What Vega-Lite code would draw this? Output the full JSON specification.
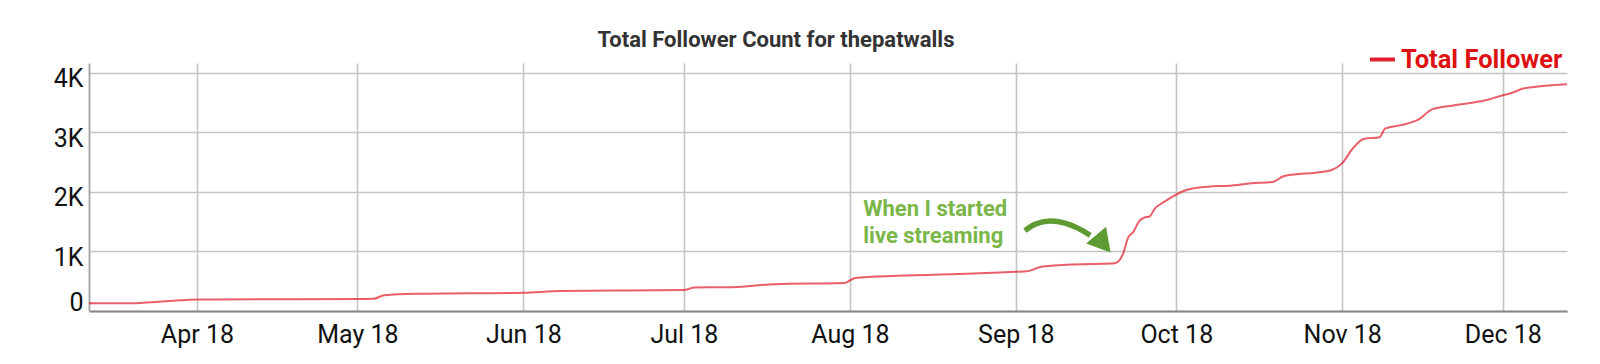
{
  "$schema": "https://vega.github.io/schema/vega-lite/v6.json",
  "width": 1478,
  "height": 248,
  "autosize": {"type": "none"},
  "padding": {"left": 89, "top": 63, "right": 33, "bottom": 53},
  "background": "white",
  "title": {
    "text": "Total Follower Count for thepatwalls",
    "font": "Roboto",
    "fontSize": 22,
    "fontWeight": "bold",
    "color": "#333333",
    "anchor": "middle",
    "frame": "group",
    "dx": -52,
    "offset": -24,
    "baseline": "alphabetic"
  },
  "config": {
    "view": {"stroke": null},
    "axis": {"labelFont": "Roboto", "labelColor": "#111111", "labelFontSize": 25, "gridColor": "#c4c4c4", "gridWidth": 1.6, "ticks": false, "title": null}
  },
  "layer": [
    {
      "data": {
        "values": [
          {"date": "2018-03-11T20:00:00Z", "followers": 128},
          {"date": "2018-03-20", "followers": 130},
          {"date": "2018-03-22", "followers": 140},
          {"date": "2018-03-30", "followers": 185},
          {"date": "2018-04-01", "followers": 193},
          {"date": "2018-04-15", "followers": 196},
          {"date": "2018-05-01", "followers": 200},
          {"date": "2018-05-04", "followers": 205},
          {"date": "2018-05-06", "followers": 265},
          {"date": "2018-05-12", "followers": 288},
          {"date": "2018-06-01", "followers": 307},
          {"date": "2018-06-08", "followers": 335},
          {"date": "2018-06-20", "followers": 343},
          {"date": "2018-07-01", "followers": 352},
          {"date": "2018-07-03", "followers": 395},
          {"date": "2018-07-09", "followers": 398},
          {"date": "2018-07-18", "followers": 450},
          {"date": "2018-07-31", "followers": 470},
          {"date": "2018-08-02", "followers": 555},
          {"date": "2018-08-10", "followers": 590},
          {"date": "2018-08-24", "followers": 630},
          {"date": "2018-09-01", "followers": 658},
          {"date": "2018-09-03", "followers": 665},
          {"date": "2018-09-06", "followers": 745},
          {"date": "2018-09-12", "followers": 782},
          {"date": "2018-09-19", "followers": 795},
          {"date": "2018-09-20", "followers": 820},
          {"date": "2018-09-21", "followers": 950},
          {"date": "2018-09-22", "followers": 1230},
          {"date": "2018-09-23", "followers": 1330},
          {"date": "2018-09-24", "followers": 1500},
          {"date": "2018-09-25", "followers": 1565},
          {"date": "2018-09-26", "followers": 1585},
          {"date": "2018-09-27", "followers": 1720},
          {"date": "2018-09-28", "followers": 1790},
          {"date": "2018-09-30", "followers": 1900},
          {"date": "2018-10-02", "followers": 2000},
          {"date": "2018-10-04", "followers": 2055},
          {"date": "2018-10-07", "followers": 2086},
          {"date": "2018-10-11", "followers": 2103},
          {"date": "2018-10-15", "followers": 2142},
          {"date": "2018-10-19", "followers": 2165},
          {"date": "2018-10-21", "followers": 2260},
          {"date": "2018-10-23", "followers": 2290},
          {"date": "2018-10-27", "followers": 2320},
          {"date": "2018-10-30", "followers": 2365},
          {"date": "2018-11-01", "followers": 2480},
          {"date": "2018-11-03", "followers": 2730},
          {"date": "2018-11-05", "followers": 2885},
          {"date": "2018-11-08", "followers": 2915},
          {"date": "2018-11-09", "followers": 3060},
          {"date": "2018-11-12", "followers": 3118},
          {"date": "2018-11-15", "followers": 3200},
          {"date": "2018-11-18", "followers": 3390},
          {"date": "2018-11-22", "followers": 3450},
          {"date": "2018-11-25", "followers": 3490},
          {"date": "2018-11-28", "followers": 3540},
          {"date": "2018-12-01", "followers": 3620},
          {"date": "2018-12-02", "followers": 3640},
          {"date": "2018-12-05", "followers": 3735},
          {"date": "2018-12-08", "followers": 3770},
          {"date": "2018-12-13", "followers": 3802}
        ]
      },
      "mark": {"type": "line", "strokeWidth": 2, "interpolate": "monotone", "strokeOpacity": 0.72},
      "encoding": {
        "x": {
          "field": "date",
          "type": "temporal",
          "scale": {"type": "utc", "nice": false, "domain": [{"year": 2018, "month": "mar", "date": 11, "hours": 20, "utc": true}, {"year": 2018, "month": "dec", "date": 13, "utc": true}]},
          "axis": {"format": "%b %y", "tickCount": {"interval": "month", "step": 1}, "labelPadding": 11, "domainColor": "#888888", "domainWidth": 2, "grid": true}
        },
        "y": {
          "field": "followers",
          "type": "quantitative",
          "scale": {"domain": [0, 4160], "nice": false},
          "axis": {
            "values": [0, 1000, 2000, 3000, 4000],
            "labelExpr": "datum.value == 0 ? '0' : (datum.value / 1000) + 'K'",
            "labelPadding": 6,
            "labelFlush": true,
            "labelOffset": {"condition": {"test": "datum.value == 0", "value": 4}, "value": 6},
            "domainColor": "#aaaaaa",
            "domainWidth": 2
          }
        },
        "color": {
          "datum": "Total Follower",
          "scale": {"range": ["#e0202e"]},
          "legend": {
            "orient": "none",
            "legendX": 1279,
            "legendY": -18,
            "padding": 0,
            "title": null,
            "symbolType": "stroke",
            "symbolSize": 625,
            "symbolStrokeWidth": 4,
            "labelFont": "Roboto",
            "labelFontSize": 25.5,
            "labelFontWeight": "bold",
            "labelColor": "#dd1111",
            "labelOffset": 4,
            "labelLimit": 400
          }
        }
      }
    },
    {
      "data": {
        "values": [
          {"date": "2018-09-02T17:00:00Z", "v": 1348},
          {"date": "2018-09-04T14:00:00Z", "v": 1455},
          {"date": "2018-09-07T10:00:00Z", "v": 1510},
          {"date": "2018-09-10T05:00:00Z", "v": 1475},
          {"date": "2018-09-12T14:00:00Z", "v": 1390},
          {"date": "2018-09-14T22:00:00Z", "v": 1270}
        ]
      },
      "mark": {"type": "line", "interpolate": "monotone", "strokeWidth": 5.5, "color": "#5e9b33"},
      "encoding": {
        "x": {"field": "date", "type": "temporal"},
        "y": {"field": "v", "type": "quantitative"}
      }
    },
    {
      "data": {"values": [{"date": "2018-09-16T22:00:00Z", "v": 1175}]},
      "mark": {"type": "point", "shape": "triangle", "angle": 140, "size": 680, "filled": true, "color": "#5e9b33", "opacity": 1},
      "encoding": {
        "x": {"field": "date", "type": "temporal"},
        "y": {"field": "v", "type": "quantitative"}
      }
    },
    {
      "data": {
        "values": [
          {"date": "2018-08-03T12:00:00Z", "v": 1591, "label": "When I started"},
          {"date": "2018-08-03T12:00:00Z", "v": 1147, "label": "live streaming"}
        ]
      },
      "mark": {"type": "text", "align": "left", "baseline": "alphabetic", "font": "Roboto", "fontSize": 22, "fontWeight": "bold", "color": "#7ab648"},
      "encoding": {
        "x": {"field": "date", "type": "temporal"},
        "y": {"field": "v", "type": "quantitative"},
        "text": {"field": "label"}
      }
    }
  ]
}
